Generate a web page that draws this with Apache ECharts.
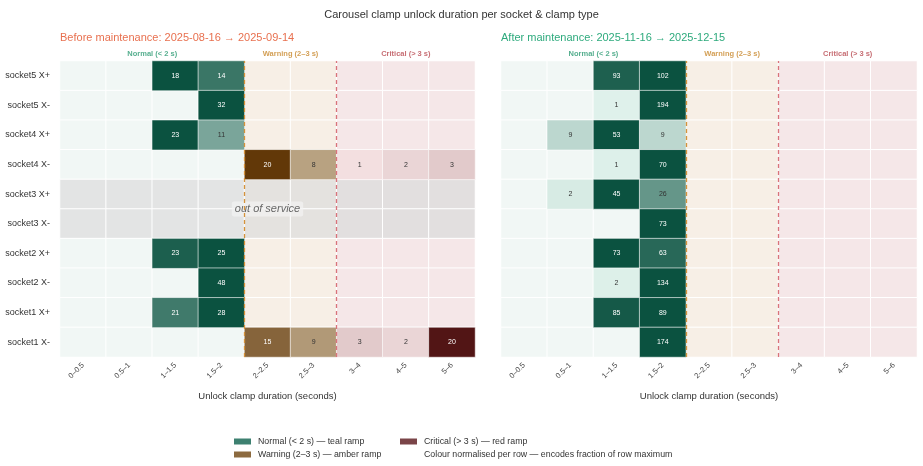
<!DOCTYPE html>
<html>
<head>
<meta charset="utf-8">
<script src="https://cdn.jsdelivr.net/npm/echarts@6/dist/echarts.min.js"></script>
<style>
html, body { margin: 0; padding: 0; background: #fff; }
#chart { width: 923px; height: 466px; }
</style>
</head>
<body>
<div id="chart"></div>
<script>
// duration bins (x) and socket/clamp rows (y, top to bottom)
var bins = ['0–0.5', '0.5–1', '1–1.5', '1.5–2', '2–2.5', '2.5–3', '3–4', '4–5', '5–6'];
var rows = ['socket5 X+', 'socket5 X-', 'socket4 X+', 'socket4 X-', 'socket3 X+',
            'socket3 X-', 'socket2 X+', 'socket2 X-', 'socket1 X+', 'socket1 X-'];

// counts per row, before maintenance (null = out of service)
var before = [
    [0, 0, 18, 14, 0, 0, 0, 0, 0],
    [0, 0, 0, 32, 0, 0, 0, 0, 0],
    [0, 0, 23, 11, 0, 0, 0, 0, 0],
    [0, 0, 0, 0, 20, 8, 1, 2, 3],
    null,
    null,
    [0, 0, 23, 25, 0, 0, 0, 0, 0],
    [0, 0, 0, 48, 0, 0, 0, 0, 0],
    [0, 0, 21, 28, 0, 0, 0, 0, 0],
    [0, 0, 0, 0, 15, 9, 3, 2, 20]
];
// counts per row, after maintenance
var after = [
    [0, 0, 93, 102, 0, 0, 0, 0, 0],
    [0, 0, 1, 194, 0, 0, 0, 0, 0],
    [0, 9, 53, 9, 0, 0, 0, 0, 0],
    [0, 0, 1, 70, 0, 0, 0, 0, 0],
    [0, 2, 45, 26, 0, 0, 0, 0, 0],
    [0, 0, 0, 73, 0, 0, 0, 0, 0],
    [0, 0, 73, 63, 0, 0, 0, 0, 0],
    [0, 0, 2, 134, 0, 0, 0, 0, 0],
    [0, 0, 85, 89, 0, 0, 0, 0, 0],
    [0, 0, 0, 174, 0, 0, 0, 0, 0]
];

// zones: first and last bin index (inclusive)
var zoneNames = ['Normal (< 2 s)', 'Warning (2–3 s)', 'Critical (> 3 s)'];
var zoneStart = [0, 4, 6];
var zoneEnd = [3, 5, 8];
var legendNames = ['Normal (< 2 s) — teal ramp', 'Warning (2–3 s) — amber ramp', 'Critical (> 3 s) — red ramp'];
var noteText = 'Colour normalised per row — encodes fraction of row maximum';

var zoneText = ['#2b9a72', '#c8872a', '#b8474f'];
var zoneBg = ['#f1f7f5', '#f7efe6', '#f5e7e8'];
var zoneGrey = ['#e3e4e4', '#e4e2df', '#e2dfdf'];
var ramps = [['#e0f2ec', '#0b5240'], ['#f2e8d2', '#623808'], ['#fbeaeb', '#521515']];
var swatch = ['#3d8070', '#8c6a3f', '#7a4448'];

var FONT = '"Liberation Sans", Arial, Helvetica, sans-serif';

function zoneOf(c) {
    for (var z = 0; z < 3; z++) if (c >= zoneStart[z] && c <= zoneEnd[z]) return z;
    return 0;
}

function bgData(table) {
    var out = [];
    rows.forEach(function (r, ri) {
        bins.forEach(function (b, ci) {
            var z = zoneOf(ci);
            out.push({ value: [ci, ri, 0], itemStyle: { color: table[ri] ? zoneBg[z] : zoneGrey[z] } });
        });
    });
    return out;
}

function zoneData(table, z) {
    var out = [];
    table.forEach(function (row, ri) {
        if (!row) return;
        var mx = Math.max.apply(null, row);
        row.forEach(function (v, ci) {
            if (!v || zoneOf(ci) !== z) return;
            var f = v / mx;
            out.push({ value: [ci, ri, f, v], label: { color: f > 0.65 ? '#ffffff' : '#333333' } });
        });
    });
    return out;
}

var gridTop = 61, gridH = 296;
var grids = [
    { left: 60, top: gridTop, width: 415, height: gridH },
    { left: 501, top: gridTop, width: 416, height: gridH }
];

var xAxes = [], yAxes = [];
[0, 1].forEach(function (g) {
    xAxes.push({
        type: 'category', gridIndex: g, data: bins,
        axisLine: { show: false }, axisTick: { show: false }, splitLine: { show: false },
        axisLabel: { interval: 0, rotate: 45, fontSize: 7.5, color: '#444', margin: 7, fontFamily: FONT },
        name: 'Unlock clamp duration (seconds)', nameLocation: 'middle', nameGap: 34,
        nameTextStyle: { fontSize: 9.5, color: '#333', fontFamily: FONT }
    });
    yAxes.push({
        type: 'category', gridIndex: g, data: rows, inverse: true,
        axisLine: { show: false }, axisTick: { show: false }, splitLine: { show: false },
        axisLabel: { show: g === 0, fontSize: 9, color: '#333', margin: 10, fontFamily: FONT }
    });
});
// hidden value axes over each grid for the zone lines and annotations
[0, 1].forEach(function (g) {
    xAxes.push({ type: 'value', gridIndex: g, min: 0, max: bins.length, show: false });
    yAxes.push({ type: 'value', gridIndex: g, min: 0, max: rows.length, show: false });
});

var series = [];
[before, after].forEach(function (t, g) {
    series.push({
        type: 'heatmap', xAxisIndex: g, yAxisIndex: g, data: bgData(t), silent: true,
        itemStyle: { borderColor: '#ffffff', borderWidth: 1 },
        emphasis: { disabled: true }
    });
});
var zoneSeriesIdx = [[], [], []];
[before, after].forEach(function (t, g) {
    for (var z = 0; z < 3; z++) {
        zoneSeriesIdx[z].push(series.length);
        series.push({
            name: legendNames[z],
            type: 'heatmap', xAxisIndex: g, yAxisIndex: g, data: zoneData(t, z), silent: true,
            itemStyle: { borderColor: 'rgba(255,255,255,0.6)', borderWidth: 1 },
            label: {
                show: true, fontSize: 7, fontFamily: FONT,
                formatter: function (p) { return p.value[3]; }
            },
            emphasis: { disabled: true }
        });
    }
});
// zone boundary lines and zone headers
[0, 1].forEach(function (g) {
    series.push({
        type: 'line', xAxisIndex: 2 + g, yAxisIndex: 2 + g, data: [], silent: true,
        markLine: {
            symbol: 'none', silent: true, label: { show: false },
            data: [
                { xAxis: zoneStart[1], lineStyle: { color: '#d4923a', type: [4, 3], width: 1.3 } },
                { xAxis: zoneStart[2], lineStyle: { color: '#d9737b', type: [4, 3], width: 1.3 } }
            ]
        }
    });
    series.push({
        type: 'scatter', xAxisIndex: 2 + g, yAxisIndex: 2 + g, symbolSize: 0, silent: true,
        data: zoneNames.map(function (n, z) {
            return {
                value: [(zoneStart[z] + zoneEnd[z] + 1) / 2, rows.length],
                label: { show: true, position: 'top', distance: 3, formatter: n, color: zoneText[z],
                         fontSize: 7.5, fontWeight: 'bold', fontFamily: FONT }
            };
        })
    });
});
// out-of-service note over the rows without data
var oos = [];
before.forEach(function (r, i) { if (!r) oos.push(i); });
series.push({
    type: 'scatter', xAxisIndex: 2, yAxisIndex: 2, symbolSize: 0, silent: true,
    data: [{
        value: [bins.length / 2, rows.length - (oos[0] + oos[oos.length - 1] + 1) / 2],
        label: {
            show: true, position: 'inside', formatter: 'out of service',
            fontSize: 11, fontStyle: 'italic', color: '#444', fontFamily: FONT,
            backgroundColor: 'rgba(242,242,242,0.9)', padding: [2, 3], borderRadius: 2
        }
    }]
});
series.push({ name: noteText, type: 'line', xAxisIndex: 2, yAxisIndex: 2, data: [] });

// one legend per entry, laid out as two columns of two rows
var legendText = { fontSize: 8.8, color: '#333', fontFamily: FONT, padding: [0, 0, 0, 2] };
var legendItems = [
    { name: legendNames[0], color: swatch[0], left: 234, top: 437 },
    { name: legendNames[1], color: swatch[1], left: 234, top: 450 },
    { name: legendNames[2], color: swatch[2], left: 400, top: 437 },
    { name: noteText, color: 'rgba(0,0,0,0)', left: 400, top: 450 }
];

var option = {
    backgroundColor: '#ffffff',
    animation: false,
    title: [
        { text: 'Carousel clamp unlock duration per socket & clamp type', left: 'center', top: 4,
          textStyle: { fontSize: 11, fontWeight: 'normal', color: '#333', fontFamily: FONT } },
        { text: 'Before maintenance: 2025-08-16 → 2025-09-14', left: 55, top: 27,
          textStyle: { fontSize: 11, fontWeight: 'normal', color: '#e8704f', fontFamily: FONT } },
        { text: 'After maintenance: 2025-11-16 → 2025-12-15', left: 496, top: 27,
          textStyle: { fontSize: 11, fontWeight: 'normal', color: '#2eaa7d', fontFamily: FONT } }
    ],
    grid: grids,
    xAxis: xAxes,
    yAxis: yAxes,
    visualMap: [0, 1, 2].map(function (z) {
        return { type: 'continuous', show: false, dimension: 2, min: 0, max: 1,
                 seriesIndex: zoneSeriesIdx[z], inRange: { color: ramps[z] } };
    }),
    legend: legendItems.map(function (it) {
        return {
            left: it.left, top: it.top, padding: 0, itemWidth: 17, itemHeight: 6,
            selectedMode: false, textStyle: legendText,
            data: [{ name: it.name, icon: 'rect', itemStyle: { color: it.color, borderWidth: 0 } }]
        };
    }),
    series: series
};

var chart = echarts.init(document.getElementById('chart'));
chart.setOption(option);
window.addEventListener('resize', function () { chart.resize(); });
</script>
</body>
</html>
